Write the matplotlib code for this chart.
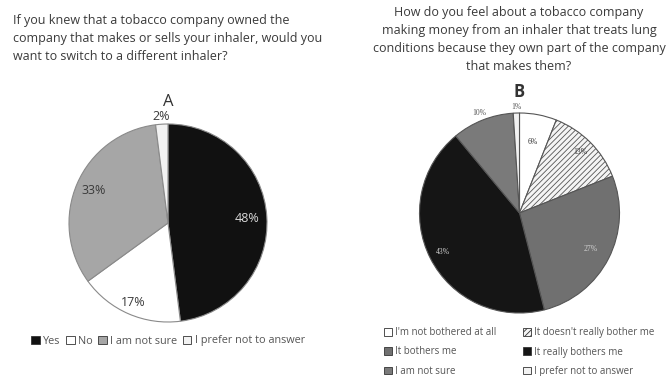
import matplotlib.pyplot as plt
import numpy as np
from matplotlib.patches import Patch

plt.rcParams['font.family'] = ['Open Sans', 'DejaVu Sans']
plt.rcParams['hatch.linewidth'] = 0.6

# Panel A: would you switch inhaler?
labels_a = ["Yes", "No", "I am not sure", "I prefer not to answer"]
values_a = [48, 17, 33, 2]
colors_a = ["#111111", "#ffffff", "#a6a6a6", "#f2f2f2"]

# Panel B: how do you feel about it?
labels_b = ["I'm not bothered at all", "It doesn't really bother me",
            "It bothers me", "It really bothers me",
            "I am not sure", "I prefer not to answer"]
values_b = [6, 13, 27, 43, 10, 1]
colors_b = ["#ffffff", "#f4f4f4", "#707070", "#151515", "#7a7a7a", "#f2f2f2"]
hatches_b = [None, "//////", None, None, None, None]

title_a = ("If you knew that a tobacco company owned the\n"
           "company that makes or sells your inhaler, would you\n"
           "want to switch to a different inhaler?")
title_b = ("How do you feel about a tobacco company\n"
           "making money from an inhaler that treats lung\n"
           "conditions because they own part of the company\n"
           "that makes them?")

W, H = 672, 376
fig = plt.figure(figsize=(W / 100, H / 100), dpi=100)
txt = "#3a3a3a"

def px_axes(cx, cy, r):
    return fig.add_axes([(cx - r) / W, (H - cy - r) / H, 2 * r / W, 2 * r / H])

# ---- Pie A ----
ax_a = px_axes(168, 223, 99)
wedges_a, _ = ax_a.pie(values_a, colors=colors_a, startangle=90, counterclock=False,
                       wedgeprops=dict(edgecolor="#8a8a8a", linewidth=0.8))
label_r_a = [0.8, 0.88, 0.82, 1.08]
label_col_a = ["#d8d8d8", txt, txt, txt]
for w, v, r, c in zip(wedges_a, values_a, label_r_a, label_col_a):
    ang = np.deg2rad((w.theta1 + w.theta2) / 2)
    ax_a.text(r * np.cos(ang), r * np.sin(ang), f"{v}%", ha="center", va="center",
              fontsize=9, color=c)
ax_a.set_xlim(-1, 1)
ax_a.set_ylim(-1, 1)
ax_a.set_aspect("equal")
ax_a.axis("off")

fig.text(13 / W, 1 - 14 / H, title_a, ha="left", va="top", fontsize=9,
         color=txt, linespacing=1.5)
fig.text(168 / W, 1 - 102 / H, "A", ha="center", va="center", fontsize=12, color="#333333")

handles_a = [Patch(facecolor=c, edgecolor="#333333", linewidth=0.6) for c in colors_a]
fig.legend(handles_a, labels_a, loc="center", bbox_to_anchor=(168 / W, 1 - 341 / H),
           ncol=4, frameon=False, fontsize=7.8, handlelength=0.8, handleheight=0.8,
           handletextpad=0.3, columnspacing=0.5, labelcolor="#555555")

# ---- Pie B ----
ax_b = px_axes(519.5, 213, 100)
wedges_b, _ = ax_b.pie(values_b, colors=colors_b, startangle=90, counterclock=False,
                       wedgeprops=dict(edgecolor="#555555", linewidth=0.8))
for w, h in zip(wedges_b, hatches_b):
    if h:
        w.set_hatch(h)
label_r_b = [0.72, 0.86, 0.8, 0.86, 1.08, 1.06]
label_col_b = ["#333333", "#333333", "#d0d0d0", "#d0d0d0", "#555555", "#555555"]
for w, v, r, c in zip(wedges_b, values_b, label_r_b, label_col_b):
    ang = np.deg2rad((w.theta1 + w.theta2) / 2)
    ax_b.text(r * np.cos(ang), r * np.sin(ang), f"{v}%", ha="center", va="center",
              fontsize=5.5, color=c, family="Liberation Serif")
ax_b.set_xlim(-1, 1)
ax_b.set_ylim(-1, 1)
ax_b.set_aspect("equal")
ax_b.axis("off")

fig.text(519 / W, 1 - 6 / H, title_b, ha="center", va="top", fontsize=9,
         color=txt, linespacing=1.5)
fig.text(519 / W, 1 - 92 / H, "B", ha="center", va="center", fontsize=12,
         color="#333333", fontweight="bold")

# legend filled column by column, so reorder to read row-wise
order = [0, 2, 4, 1, 3, 5]
handles_b = [Patch(facecolor=colors_b[i], edgecolor="#333333", linewidth=0.6,
                   hatch=hatches_b[i]) for i in order]
fig.legend(handles_b, [labels_b[i] for i in order], loc="center",
           bbox_to_anchor=(519 / W, 1 - 352 / H), ncol=2, frameon=False, fontsize=7,
           handlelength=0.8, handleheight=0.8, handletextpad=0.3, columnspacing=2.8,
           labelspacing=0.85, labelcolor="#555555")

fig.savefig("out.png", dpi=100, facecolor="white")
